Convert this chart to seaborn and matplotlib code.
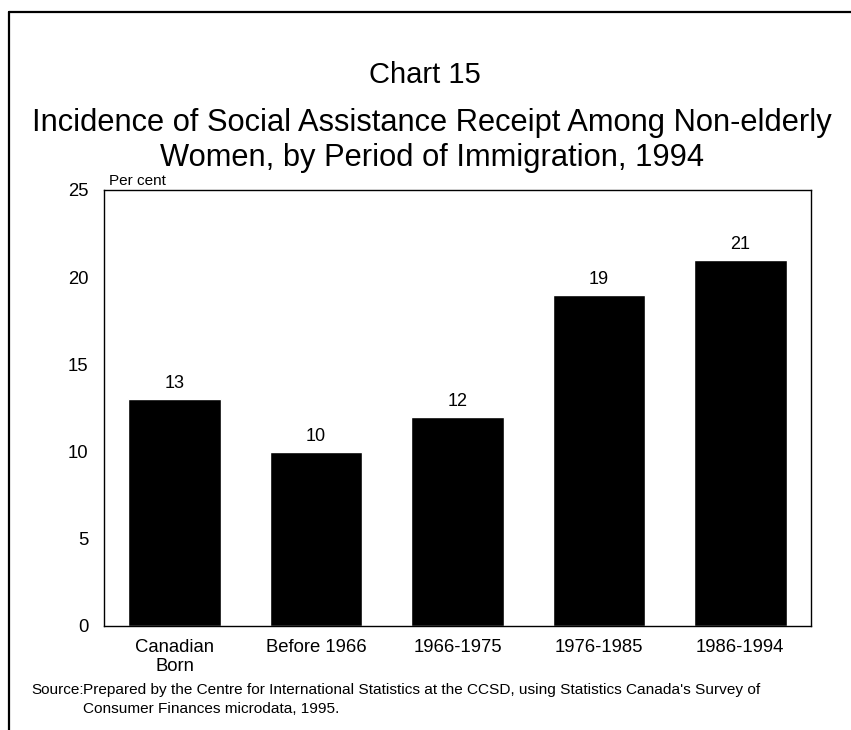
import matplotlib
matplotlib.use("Agg")
import matplotlib.pyplot as plt
import seaborn as sns
import pandas as pd
from matplotlib.lines import Line2D

categories = ["Canadian\nBorn", "Before 1966", "1966-1975", "1976-1985", "1986-1994"]
values = [13, 10, 12, 19, 21]
y_ticks = [0, 5, 10, 15, 20, 25]

sns.set_theme(style="white")
plt.rcParams["font.family"] = ["Liberation Sans", "DejaVu Sans"]
plt.rcParams["text.color"] = "black"

df = pd.DataFrame({"period": categories, "pct": values})

fig = plt.figure(figsize=(8.51, 7.30), dpi=100)
ax = fig.add_axes([104 / 851, 1 - 626 / 730, 707 / 851, 436 / 730])

sns.barplot(data=df, x="period", y="pct", color="black", saturation=1,
            width=0.654, ax=ax)

# value labels
for c in ax.containers:
    ax.bar_label(c, labels=[str(v) for v in values], padding=5, fontsize=13, color="black")

ax.set_ylim(0, 25)
ax.set_yticks(y_ticks)
ax.set_xlim(-0.5, len(categories) - 0.5)
ax.tick_params(axis="both", length=0, labelsize=13.3, colors="black")
ax.tick_params(axis="y", pad=11)
ax.tick_params(axis="x", pad=9)
for lbl in ax.get_xticklabels():
    lbl.set_linespacing(1.17)
ax.set_xlabel("")
ax.set_ylabel("")
for s in ax.spines.values():
    s.set_visible(True)
    s.set_color("black")
    s.set_linewidth(1)

ax.text(109 / 851, 1 - 181 / 730, "Per cent", transform=fig.transFigure, fontsize=11,
        ha="left", va="center")

# titles
fig.text(425 / 851, 1 - 75 / 730, "Chart 15", ha="center", va="center", fontsize=21)
fig.text(432 / 851, 1 - 123 / 730, "Incidence of Social Assistance Receipt Among Non-elderly",
         ha="center", va="center", fontsize=22.2)
fig.text(432 / 851, 1 - 158 / 730, "Women, by Period of Immigration, 1994",
         ha="center", va="center", fontsize=22.2)

# source note
fig.text(31 / 851, 1 - 690 / 730, "Source:", ha="left", va="center", fontsize=11)
fig.text(83 / 851, 1 - 690 / 730,
         "Prepared by the Centre for International Statistics at the CCSD, using Statistics Canada's Survey of",
         ha="left", va="center", fontsize=11.1)
fig.text(83 / 851, 1 - 709 / 730, "Consumer Finances microdata, 1995.",
         ha="left", va="center", fontsize=11.1)

# outer frame (top and left edges)
fig.add_artist(Line2D([9 / 851, 9 / 851], [0, 1 - 12 / 730], transform=fig.transFigure,
                      color="black", lw=1.6))
fig.add_artist(Line2D([9 / 851, 1], [1 - 12 / 730, 1 - 12 / 730], transform=fig.transFigure,
                      color="black", lw=1.6))

fig.savefig("out.png", dpi=100, facecolor="white")
